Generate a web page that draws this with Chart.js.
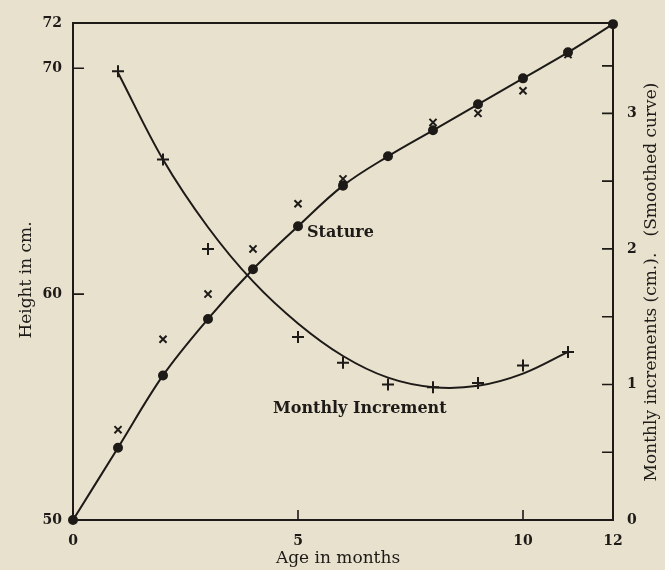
<!DOCTYPE html>
<html>
<head>
<meta charset="utf-8">
<title>Stature and monthly increment</title>
<script src="https://cdn.jsdelivr.net/npm/chart.js@4.4.1/dist/chart.umd.min.js"></script>
<style>
  html, body { margin: 0; padding: 0; background: #e7e1ce; }
  #wrap { width: 665px; height: 570px; }
</style>
</head>
<body>
<div id="wrap"><canvas id="chart" width="665" height="570"></canvas></div>
<script>
// Age in months (x values)
const months = [0, 1, 2, 3, 4, 5, 6, 7, 8, 9, 10, 11, 12];

// Stature, smoothed (dots on the curve), cm
const stature = [50, 53.2, 56.4, 58.9, 61.1, 63.0, 64.8, 66.1, 67.25, 68.4, 69.55, 70.7, 71.95];

// Observed stature (x marks), cm
const observed = [null, 54.0, 58.0, 60.0, 62.0, 64.0, 65.1, null, 67.6, 68.0, 69.0, 70.6, null];

// Monthly increments (+ marks), cm, right axis
const increments = [null, 3.31, 2.66, 2.0, null, 1.35, 1.16, 1.0, 0.98, 1.01, 1.14, 1.24, null];

// Smoothed increment curve, cm, right axis
const smoothMonths = [1, 2, 3, 4, 5, 6, 7, 8, 9, 10, 11];
const smoothIncrements = [3.3, 2.66, 2.16, 1.76, 1.45, 1.21, 1.05, 0.98, 0.99, 1.08, 1.24];

// Tick values
const heightTicks = [50, 60, 70, 72];
const incrementTicks = [0, 0.5, 1, 1.5, 2, 2.5, 3, 3.35];
const monthTicks = [0, 5, 10, 12];

const INK = "#1d1a17";
const PAPER = "#e7e1ce";

function toPoints(xs, ys) {
  return xs.map((x, i) => ({ x: x, y: ys[i] }));
}

// Paper background, box, inward ticks and text labels
const paperPlugin = {
  id: "paper",
  beforeDraw(chart) {
    const ctx = chart.ctx;
    ctx.save();
    ctx.fillStyle = PAPER;
    ctx.fillRect(0, 0, chart.width, chart.height);
    ctx.restore();
  },
  afterDraw(chart) {
    const ctx = chart.ctx;
    const area = chart.chartArea;
    const sx = chart.scales.x;
    const sy = chart.scales.y;
    const sr = chart.scales.y2;

    ctx.save();
    ctx.strokeStyle = INK;
    ctx.lineWidth = 2;
    ctx.strokeRect(area.left, area.top, area.right - area.left, area.bottom - area.top);

    // inward tick marks
    ctx.lineWidth = 1.6;
    ctx.beginPath();
    sy.ticks.forEach((t) => {
      if (t.value === 50 || t.value === 72) return;
      const y = sy.getPixelForValue(t.value);
      ctx.moveTo(area.left, y);
      ctx.lineTo(area.left + 11, y);
    });
    sr.ticks.forEach((t) => {
      if (t.value === 0) return;
      const y = sr.getPixelForValue(t.value);
      ctx.moveTo(area.right, y);
      ctx.lineTo(area.right - 11, y);
    });
    sx.ticks.forEach((t) => {
      if (t.value === 0 || t.value === 12) return;
      const x = sx.getPixelForValue(t.value);
      ctx.moveTo(x, area.bottom);
      ctx.lineTo(x, area.bottom - 10);
    });
    ctx.stroke();

    // axis titles
    ctx.fillStyle = INK;
    ctx.font = "17px 'DejaVu Serif'";
    ctx.textAlign = "center";
    ctx.textBaseline = "middle";
    ctx.fillText("Age in months", 338, 559);

    ctx.save();
    ctx.translate(27, 280);
    ctx.rotate(-Math.PI / 2);
    ctx.fillText("Height in cm.", 0, 0);
    ctx.restore();

    ctx.save();
    ctx.translate(652, 282);
    ctx.rotate(-Math.PI / 2);
    ctx.fillText("Monthly increments (cm.).   (Smoothed curve)", 0, 0);
    ctx.restore();

    // curve labels
    ctx.font = "bold 16px 'DejaVu Serif'";
    ctx.textAlign = "left";
    ctx.fillText("Stature", 307, 233);
    ctx.fillText("Monthly Increment", 273, 409);
    ctx.restore();
  },
};

const ctx = document.getElementById("chart").getContext("2d");
new Chart(ctx, {
  type: "scatter",
  data: {
    datasets: [
      {
        label: "Stature",
        data: toPoints(months, stature),
        showLine: true,
        borderColor: INK,
        backgroundColor: INK,
        borderWidth: 2,
        pointRadius: 4,
        pointStyle: "circle",
        tension: 0.35,
        yAxisID: "y",
        clip: false,
      },
      {
        label: "Observed",
        data: toPoints(months, observed),
        showLine: false,
        borderColor: INK,
        backgroundColor: INK,
        borderWidth: 2,
        pointRadius: 5,
        pointStyle: "crossRot",
        yAxisID: "y",
        clip: false,
      },
      {
        label: "Monthly increment",
        data: toPoints(months, increments),
        showLine: false,
        borderColor: INK,
        backgroundColor: INK,
        borderWidth: 2,
        pointRadius: 6,
        pointStyle: "cross",
        yAxisID: "y2",
        clip: false,
      },
      {
        label: "Smoothed increment",
        data: toPoints(smoothMonths, smoothIncrements),
        showLine: true,
        borderColor: INK,
        borderWidth: 2,
        pointRadius: 0,
        tension: 0.35,
        yAxisID: "y2",
        clip: false,
      },
    ],
  },
  options: {
    responsive: false,
    animation: false,
    layout: { padding: { top: 23, left: 0, right: 0, bottom: 0 } },
    plugins: {
      legend: { display: false },
      tooltip: { enabled: false },
    },
    scales: {
      x: {
        type: "linear",
        min: 0,
        max: 12,
        afterBuildTicks: (scale) => {
          scale.ticks = monthTicks.map((v) => ({ value: v }));
        },
        afterFit: (scale) => {
          scale.height = 50;
        },
        grid: { display: false },
        border: { display: false },
        ticks: {
          color: INK,
          padding: 5,
          maxRotation: 0,
          font: { family: "DejaVu Serif", size: 14, weight: "bold" },
        },
      },
      y: {
        type: "linear",
        position: "left",
        min: 50,
        max: 72,
        afterBuildTicks: (scale) => {
          scale.ticks = heightTicks.map((v) => ({ value: v }));
        },
        afterFit: (scale) => {
          scale.width = 73;
        },
        grid: { display: false },
        border: { display: false },
        ticks: {
          color: INK,
          padding: 3,
          font: { family: "DejaVu Serif", size: 14, weight: "bold" },
        },
      },
      y2: {
        type: "linear",
        position: "right",
        min: 0,
        max: 22 / 6,
        afterBuildTicks: (scale) => {
          scale.ticks = incrementTicks.map((v) => ({ value: v }));
        },
        afterFit: (scale) => {
          scale.width = 52;
        },
        grid: { display: false },
        border: { display: false },
        ticks: {
          color: INK,
          padding: 6,
          font: { family: "DejaVu Serif", size: 14, weight: "bold" },
          callback: (v) => (Number.isInteger(v) ? String(v) : ""),
        },
      },
    },
  },
  plugins: [paperPlugin],
});
</script>
</body>
</html>
